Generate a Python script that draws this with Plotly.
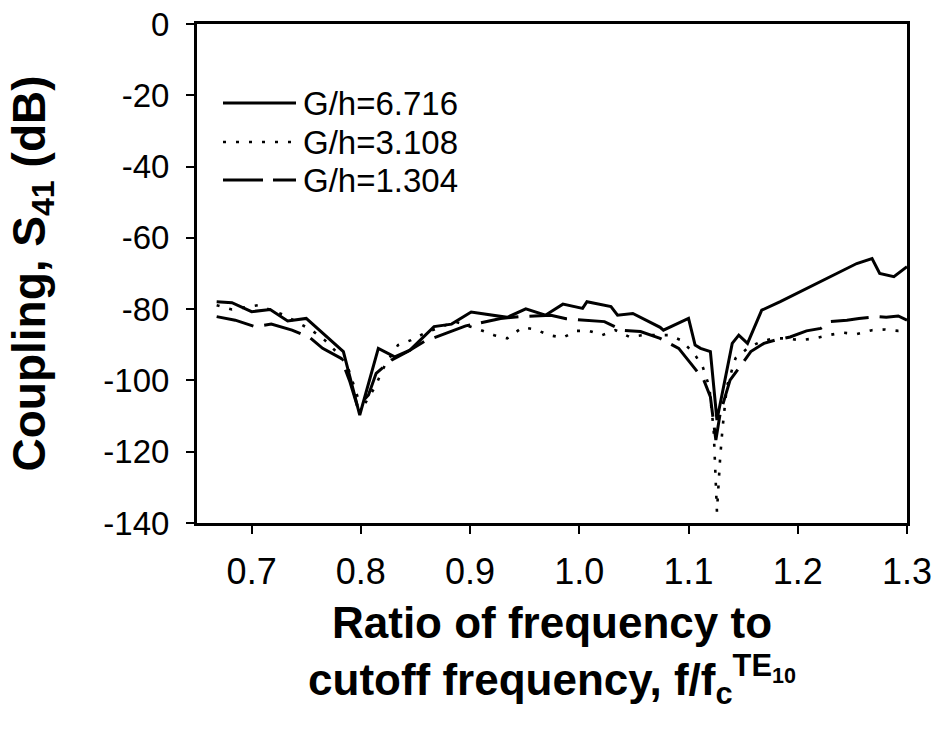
import plotly.graph_objects as go

# ---- data ----
x_solid = [0.668, 0.682, 0.700, 0.717, 0.733, 0.750, 0.784, 0.799, 0.816, 0.831, 0.845, 0.867,
           0.883, 0.901, 0.934, 0.951, 0.969, 0.985, 1.003, 1.007, 1.029, 1.035, 1.049, 1.074,
           1.077, 1.091, 1.100, 1.106, 1.111, 1.120, 1.126, 1.140, 1.146, 1.154, 1.167, 1.184,
           1.202, 1.221, 1.239, 1.254, 1.268, 1.275, 1.288, 1.300]
y_solid = [-77.9, -78.2, -80.7, -80.1, -83.3, -82.6, -91.9, -109.7, -91.0, -93.4, -91.5, -84.9,
           -84.2, -80.8, -82.3, -79.9, -81.7, -78.6, -79.8, -77.9, -79.3, -81.7, -81.2, -85.1,
           -85.9, -84.0, -82.6, -90.1, -91.0, -91.9, -111.1, -89.6, -87.3, -89.6, -80.3, -77.9,
           -75.1, -72.3, -69.5, -67.2, -65.8, -70.0, -70.9, -68.1]

x_dot = [0.668, 0.682, 0.706, 0.730, 0.755, 0.767, 0.779, 0.788, 0.797, 0.804, 0.813, 0.822,
         0.834, 0.846, 0.858, 0.886, 0.910, 0.922, 0.934, 0.948, 0.960, 0.972, 0.985, 0.997,
         1.009, 1.021, 1.033, 1.046, 1.058, 1.070, 1.082, 1.093, 1.105, 1.113, 1.119, 1.123,
         1.124, 1.125, 1.126, 1.129, 1.131, 1.135, 1.143, 1.154, 1.166, 1.178, 1.190, 1.202,
         1.216, 1.228, 1.241, 1.254, 1.268, 1.280, 1.292, 1.300]
y_dot = [-78.9, -80.1, -78.9, -81.7, -85.9, -88.7, -92.4, -96.2, -104.6, -106.4, -101.8, -95.7,
         -90.1, -88.7, -86.8, -83.5, -85.9, -87.3, -88.2, -85.1, -85.7, -87.3, -88.0, -86.1,
         -86.1, -87.3, -85.9, -87.8, -87.3, -87.3, -87.3, -88.7, -92.4, -96.2, -101.8, -113.9,
         -121.4, -133.6, -136.8, -121.4, -113.9, -101.8, -93.8, -91.0, -89.1, -88.2, -88.2, -88.7,
         -88.2, -87.3, -86.6, -87.0, -85.9, -85.7, -86.1, -86.0]

x_dash = [0.668, 0.685, 0.703, 0.718, 0.737, 0.753, 0.765, 0.782, 0.790, 0.797, 0.807, 0.814,
          0.828, 0.843, 0.858, 0.877, 0.896, 0.907, 0.928, 0.945, 0.959, 0.974, 0.988, 1.007,
          1.023, 1.039, 1.056, 1.074, 1.091, 1.102, 1.114, 1.120, 1.123, 1.125, 1.129, 1.138,
          1.147, 1.157, 1.169, 1.179, 1.193, 1.208, 1.221, 1.230, 1.245, 1.256, 1.272, 1.281,
          1.292, 1.300]
y_dash = [-82.1, -83.1, -84.9, -84.2, -85.9, -87.9, -91.0, -93.8, -100.4, -107.4, -104.1, -98.0,
          -94.3, -91.9, -89.1, -86.8, -84.7, -84.0, -82.6, -82.1, -81.9, -81.7, -82.7, -83.2,
          -83.5, -85.9, -86.3, -88.2, -91.0, -95.2, -99.9, -104.6, -111.1, -116.7, -109.2, -99.9,
          -96.2, -91.9, -89.6, -88.7, -87.8, -86.1, -85.4, -83.5, -83.1, -82.6, -82.1, -82.3,
          -81.9, -83.1]

series_names = ["G/h=6.716", "G/h=3.108", "G/h=1.304"]
x_ticks = [0.7, 0.8, 0.9, 1.0, 1.1, 1.2, 1.3]
x_ticklabels = ["0.7", "0.8", "0.9", "1.0", "1.1", "1.2", "1.3"]
y_ticks = [0, -20, -40, -60, -80, -100, -120, -140]
y_ticklabels = ["0", "-20", "-40", "-60", "-80", "-100", "-120", "-140"]

FONT = "Liberation Sans, Arial, sans-serif"
W, H = 941, 734
ML, MR, MT, MB = 197, 34, 24, 211

dashes = ["solid", "3px,10px", "38px,11px"]
widths = [3, 2.6, 3]

fig = go.Figure()
for name, xs, ys, d, w in zip(series_names, [x_solid, x_dot, x_dash], [y_solid, y_dot, y_dash],
                              dashes, widths):
    fig.add_trace(go.Scatter(x=xs, y=ys, mode="lines", name=name, showlegend=False,
                             line=dict(color="black", width=w, dash=d)))

# manual legend (long line samples like the reference); positions in page pixels
pw = W - ML - MR
ph = H - MT - MB
def px(xp):
    return (xp - ML) / pw
def py(yp):
    return (H - MB - yp) / ph

leg_rows = [103, 142, 180]
for name, d, w, yr in zip(series_names, ["solid", "3px,10px", "40px,10px"], widths, leg_rows):
    fig.add_shape(type="line", xref="paper", yref="paper", x0=px(223), x1=px(296),
                  y0=py(yr), y1=py(yr), line=dict(color="black", width=w, dash=d))
    fig.add_annotation(xref="paper", yref="paper", x=px(301), y=py(yr), text=name,
                       showarrow=False, xanchor="left", yanchor="middle",
                       font=dict(family=FONT, size=33, color="black"))

fig.update_layout(
    width=W, height=H,
    margin=dict(l=ML, r=MR, t=MT, b=MB, autoexpand=False),
    paper_bgcolor="white", plot_bgcolor="white",
    font=dict(family=FONT, color="black"),
)
fig.update_xaxes(
    range=[0.65, 1.3], tickvals=x_ticks, ticktext=x_ticklabels,
    ticks="outside", ticklen=8, tickwidth=2, tickcolor="black",
    showline=True, linewidth=3, linecolor="black", mirror=True,
    showgrid=False, zeroline=False, automargin=False,
    tickfont=dict(family=FONT, size=36), ticklabelstandoff=7,
    title=dict(text="<b>Ratio of frequency to<br>cutoff frequency, f/f<sub>c</sub><sup>TE<sub>10</sub></sup></b>",
               font=dict(family=FONT, size=44), standoff=16),
)
fig.update_yaxes(
    range=[-140, 0], tickvals=y_ticks, ticktext=y_ticklabels,
    ticks="outside", ticklen=8, tickwidth=2, tickcolor="black",
    showline=True, linewidth=3, linecolor="black", mirror=True,
    showgrid=False, zeroline=False, automargin=False,
    tickfont=dict(family=FONT, size=33), ticklabelstandoff=10,
    ticklabeloverflow="allow",
    title=dict(text="<b>Coupling, S<sub>41</sub> (dB)</b>",
               font=dict(family=FONT, size=46), standoff=44),
)

fig.write_html(
    "out.html",
    config={"displayModeBar": False},
    post_script="document.body.style.margin='0';document.body.style.overflow='hidden';",
)
